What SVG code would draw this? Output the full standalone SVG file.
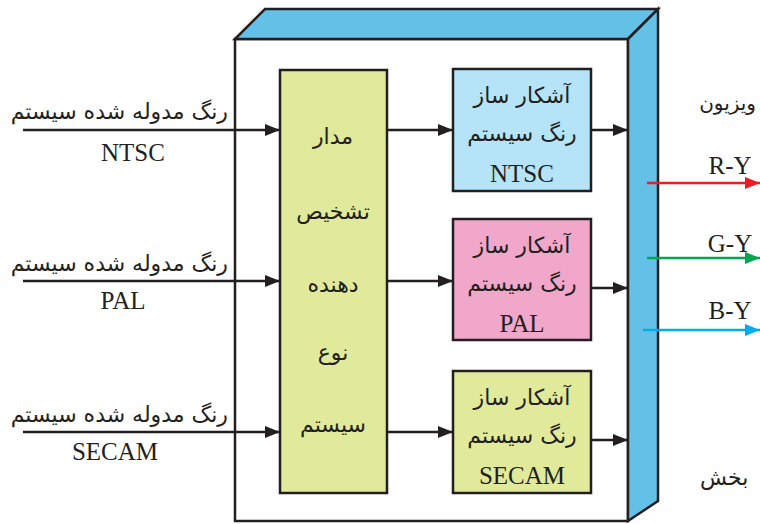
<svg xmlns="http://www.w3.org/2000/svg" width="760" height="524" viewBox="0 0 760 524">
<style>
.fa{font-family:"DejaVu Sans",sans-serif;font-size:22px;fill:#231f20}
.en{font-family:"Liberation Serif",serif;font-size:25px;fill:#231f20}
.box{stroke:#231f20;stroke-width:2.5}
.ln{stroke:#231f20;stroke-width:2.5;fill:none}
</style>
<defs>
<marker id="ah" markerUnits="userSpaceOnUse" markerWidth="16" markerHeight="12" refX="15" refY="6" orient="auto"><path d="M0,0 L15,6 L0,12 Z" fill="#231f20"/></marker>
<marker id="ar" markerUnits="userSpaceOnUse" markerWidth="16" markerHeight="12" refX="15" refY="6" orient="auto"><path d="M0,0 L15,6 L0,12 Z" fill="#ed1c24"/></marker>
<marker id="ag" markerUnits="userSpaceOnUse" markerWidth="16" markerHeight="12" refX="15" refY="6" orient="auto"><path d="M0,0 L15,6 L0,12 Z" fill="#00a651"/></marker>
<marker id="ab" markerUnits="userSpaceOnUse" markerWidth="16" markerHeight="12" refX="15" refY="6" orient="auto"><path d="M0,0 L15,6 L0,12 Z" fill="#00aeef"/></marker>
</defs>
<rect width="760" height="524" fill="#ffffff"/>
<g id="enclosure">
<rect x="235" y="39" width="393" height="482" fill="#ffffff" class="box"/>
<polygon points="235,39 265,9 658,9 628,39" fill="#63c0e6" class="box"/>
<polygon points="628,39 658,9 658,501 628,521" fill="#63c0e6" class="box"/>
</g>
<g id="detector">
<rect x="280" y="70" width="107" height="423" fill="#e1e99b" class="box"/>
<text class="fa" x="333" y="144" text-anchor="middle">مدار</text>
<text class="fa" x="333" y="219" text-anchor="middle">تشخیص</text>
<text class="fa" x="333" y="292" text-anchor="middle">دهنده</text>
<text class="fa" x="333" y="360" text-anchor="middle">نوع</text>
<text class="fa" x="333" y="432" text-anchor="middle">سیستم</text>
</g>
<g id="ntsc-box">
<rect x="453" y="69" width="138" height="122" fill="#b5e4f8" class="box"/>
<text class="fa" x="522" y="103" text-anchor="middle">آشکار ساز</text>
<text class="fa" x="522" y="141" text-anchor="middle">رنگ سیستم</text>
<text class="en" x="522" y="182" text-anchor="middle">NTSC</text>
</g>
<g id="pal-box">
<rect x="453" y="219" width="138" height="121" fill="#f0a7c9" class="box"/>
<text class="fa" x="522" y="253" text-anchor="middle">آشکار ساز</text>
<text class="fa" x="522" y="291" text-anchor="middle">رنگ سیستم</text>
<text class="en" x="522" y="332" text-anchor="middle">PAL</text>
</g>
<g id="secam-box">
<rect x="453" y="371" width="138" height="122" fill="#e1e99b" class="box"/>
<text class="fa" x="522" y="405" text-anchor="middle">آشکار ساز</text>
<text class="fa" x="522" y="443" text-anchor="middle">رنگ سیستم</text>
<text class="en" x="522" y="484" text-anchor="middle">SECAM</text>
</g>
<g id="inputs">
<text class="fa" x="228" y="119" text-anchor="end">رنگ مدوله شده سیستم</text>
<text class="en" x="133" y="161" text-anchor="middle">NTSC</text>
<text class="fa" x="228" y="271" text-anchor="end">رنگ مدوله شده سیستم</text>
<text class="en" x="123" y="309" text-anchor="middle">PAL</text>
<text class="fa" x="228" y="422" text-anchor="end">رنگ مدوله شده سیستم</text>
<text class="en" x="115" y="460" text-anchor="middle">SECAM</text>
</g>
<g id="outputs">
<text class="en" x="730" y="174" text-anchor="middle">R-Y</text>
<text class="en" x="730" y="252" text-anchor="middle">G-Y</text>
<text class="en" x="730" y="319" text-anchor="middle">B-Y</text>
<text class="fa" x="756" y="110" text-anchor="end" style="font-size:20px">ویزیون</text>
<text class="fa" x="700" y="485">بخش</text>
</g>
<g id="connectors">
<line class="ln" x1="23" y1="130" x2="280" y2="130" marker-end="url(#ah)"/>
<line class="ln" x1="23" y1="281" x2="280" y2="281" marker-end="url(#ah)"/>
<line class="ln" x1="23" y1="432" x2="280" y2="432" marker-end="url(#ah)"/>
<line class="ln" x1="387" y1="130" x2="453" y2="130" marker-end="url(#ah)"/>
<line class="ln" x1="387" y1="281" x2="453" y2="281" marker-end="url(#ah)"/>
<line class="ln" x1="387" y1="432" x2="453" y2="432" marker-end="url(#ah)"/>
<line class="ln" x1="591" y1="130" x2="628" y2="130" marker-end="url(#ah)"/>
<line class="ln" x1="591" y1="288" x2="628" y2="288" marker-end="url(#ah)"/>
<line class="ln" x1="591" y1="440" x2="628" y2="440" marker-end="url(#ah)"/>
<line x1="647" y1="183" x2="760" y2="183" stroke="#ed1c24" stroke-width="2.5" marker-end="url(#ar)"/>
<line x1="647" y1="258" x2="760" y2="258" stroke="#00a651" stroke-width="2.5" marker-end="url(#ag)"/>
<line x1="643" y1="330" x2="760" y2="330" stroke="#00aeef" stroke-width="2.5" marker-end="url(#ab)"/>
</g>
</svg>
